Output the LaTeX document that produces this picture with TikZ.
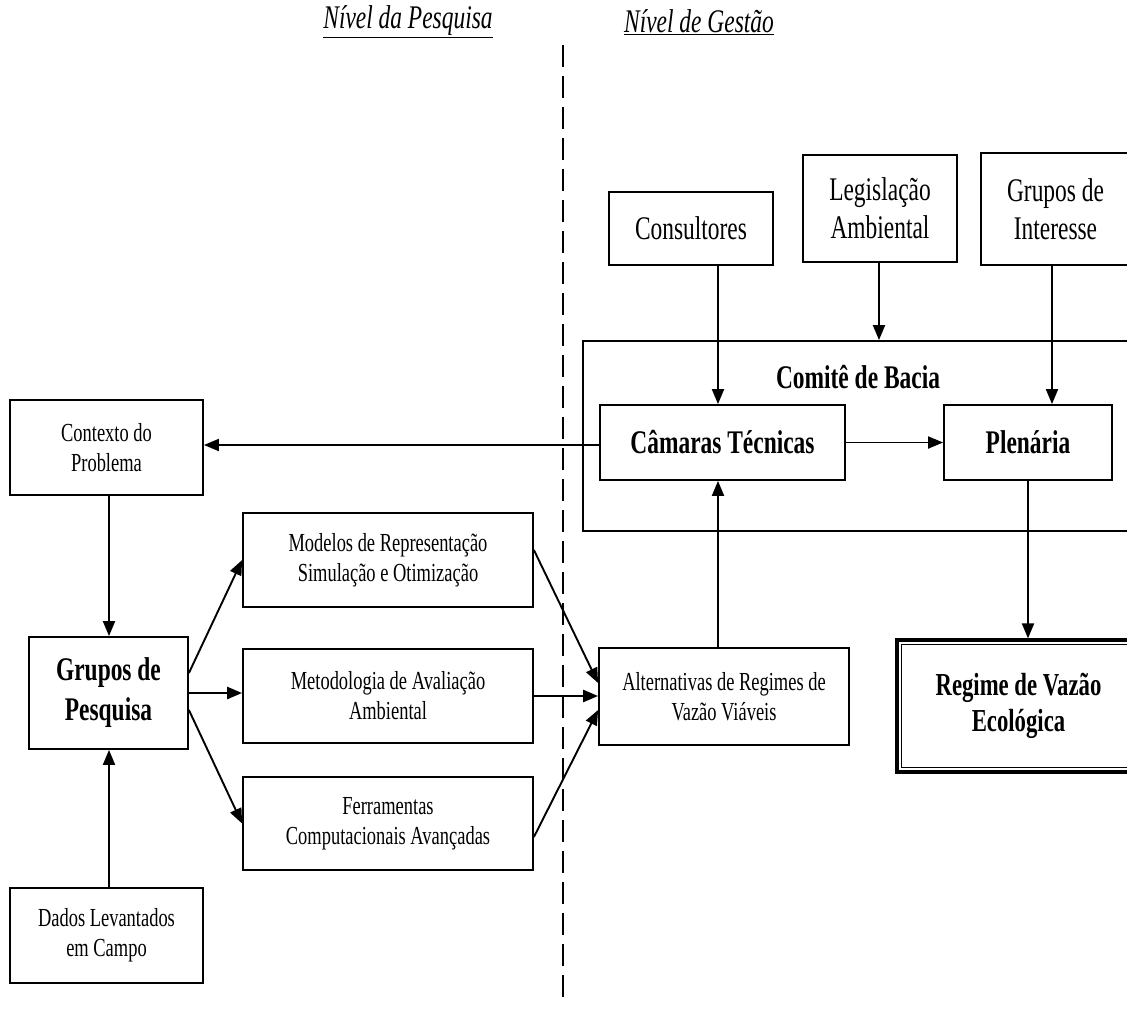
\documentclass[tikz,border=0pt]{standalone}
\usepackage{fontspec}
\setmainfont{Liberation Serif}[FakeStretch=0.71]
\usetikzlibrary{arrows.meta,calc}

\begin{document}
\begin{tikzpicture}[x=1pt,y=-1pt,
  box/.style={draw,line width=1.8pt,align=center,inner sep=0pt},
  big/.style={font=\fontsize{33}{38}\selectfont},
  small/.style={font=\fontsize{26}{30}\selectfont},
  strong/.style={font=\fontsize{33}{40}\selectfont\bfseries},
  head/.style={font=\fontsize{33}{38}\selectfont\itshape,inner sep=0pt},
  arr/.style={line width=1.9pt,-{Triangle[length=15pt,width=12pt]}}
]
\useasboundingbox (0,0) rectangle (1127,1009);

% level headings and the dashed divider
\node[head] (hres) at (408,22) {\underline{Nível da Pesquisa}};
\node[head] (hman) at (699,22) {\underline{Nível de Gestão}};
\coordinate (dtop) at (563,45);
\coordinate (dbot) at (563,1002);
\draw[line width=1.8pt,dash pattern=on 22pt off 9pt] (dtop) -- (dbot);

% management level
\node[box,big,minimum width=164,minimum height=73] (cons) at (691,228.5) {Consultores};
\node[box,big,minimum width=154,minimum height=107] (leg) at (880,208.5) {Legislação\\Ambiental};
\node[box,big,minimum width=149,minimum height=112] (gint) at (1055.5,209) {Grupos de\\Interesse};
\node[box,minimum width=557,minimum height=190] (com) at (861.5,436) {};
\node[strong] (comlbl) at (858,377) {Comitê de Bacia};
\node[box,strong,minimum width=245,minimum height=75] (cam) at (722.5,442.5) {Câmaras Técnicas};
\node[box,strong,minimum width=168,minimum height=75] (ple) at (1028,442.5) {Plenária};
\node[box,small,minimum width=250,minimum height=97] (alt) at (724,696.5) {Alternativas de Regimes de\\Vazão Viáveis};
\node[box,line width=3.2pt,minimum width=243,minimum height=132,font=\fontsize{32}{36}\selectfont\bfseries] (reg) at (1018.5,706) {Regime de Vazão\\Ecológica};
\draw[line width=1.6pt] ([shift={(6,6)}]reg.north west) rectangle ([shift={(-6,-6)}]reg.south east);

% research level
\node[box,small,minimum width=193,minimum height=95] (ctx) at (106.5,447.5) {Contexto do\\Problema};
\node[box,strong,minimum width=159,minimum height=112] (gp) at (108.5,693) {Grupos de\\Pesquisa};
\node[box,small,minimum width=193,minimum height=95] (dados) at (106.5,935.5) {Dados Levantados\\em Campo};
\node[box,small,minimum width=290,minimum height=94] (mod) at (388,560) {Modelos de Representação\\Simulação e Otimização};
\node[box,small,minimum width=290,minimum height=94] (met) at (388,696) {Metodologia de Avaliação\\Ambiental};
\node[box,small,minimum width=290,minimum height=93] (fer) at (388,823.5) {Ferramentas\\Computacionais Avançadas};

% connector columns
\coordinate (xc) at (718,0);
\coordinate (xl) at (879,0);
\coordinate (xg) at (1052,0);
\coordinate (xr) at (109,0);

% connectors
\draw[arr] (cons.south -| xc) -- (cam.north -| xc);
\draw[arr] (leg.south -| xl) -- (com.north -| xl);
\draw[arr] (gint.south -| xg) -- (ple.north -| xg);
\draw[arr] (cam.east) -- (ple.west);
\draw[arr] ([yshift=-2.5pt]cam.west) -- ([yshift=-2.5pt]cam.west -| ctx.east);
\draw[arr] (ple.south) -- (reg.north -| ple.south);
\draw[arr] (alt.north -| xc) -- (cam.south -| xc);
\draw[arr] (ctx.south -| xr) -- (gp.north -| xr);
\draw[arr] (dados.north -| xr) -- (gp.south -| xr);
\draw[arr] ([yshift=20pt]gp.east) -- (mod.west);
\draw[arr,line width=2.6pt] (gp.east) -- (gp.east -| met.west);
\draw[arr] ([yshift=-17pt]gp.east) -- (fer.west);
\draw[arr] ([yshift=10pt]mod.east) -- ([yshift=13.5pt]alt.west);
\draw[arr,line width=2.6pt] (met.east) -- (met.east -| alt.west);
\draw[arr] ([yshift=-13.5pt]fer.east) -- ([yshift=-13.5pt]alt.west);
\end{tikzpicture}
\end{document}
